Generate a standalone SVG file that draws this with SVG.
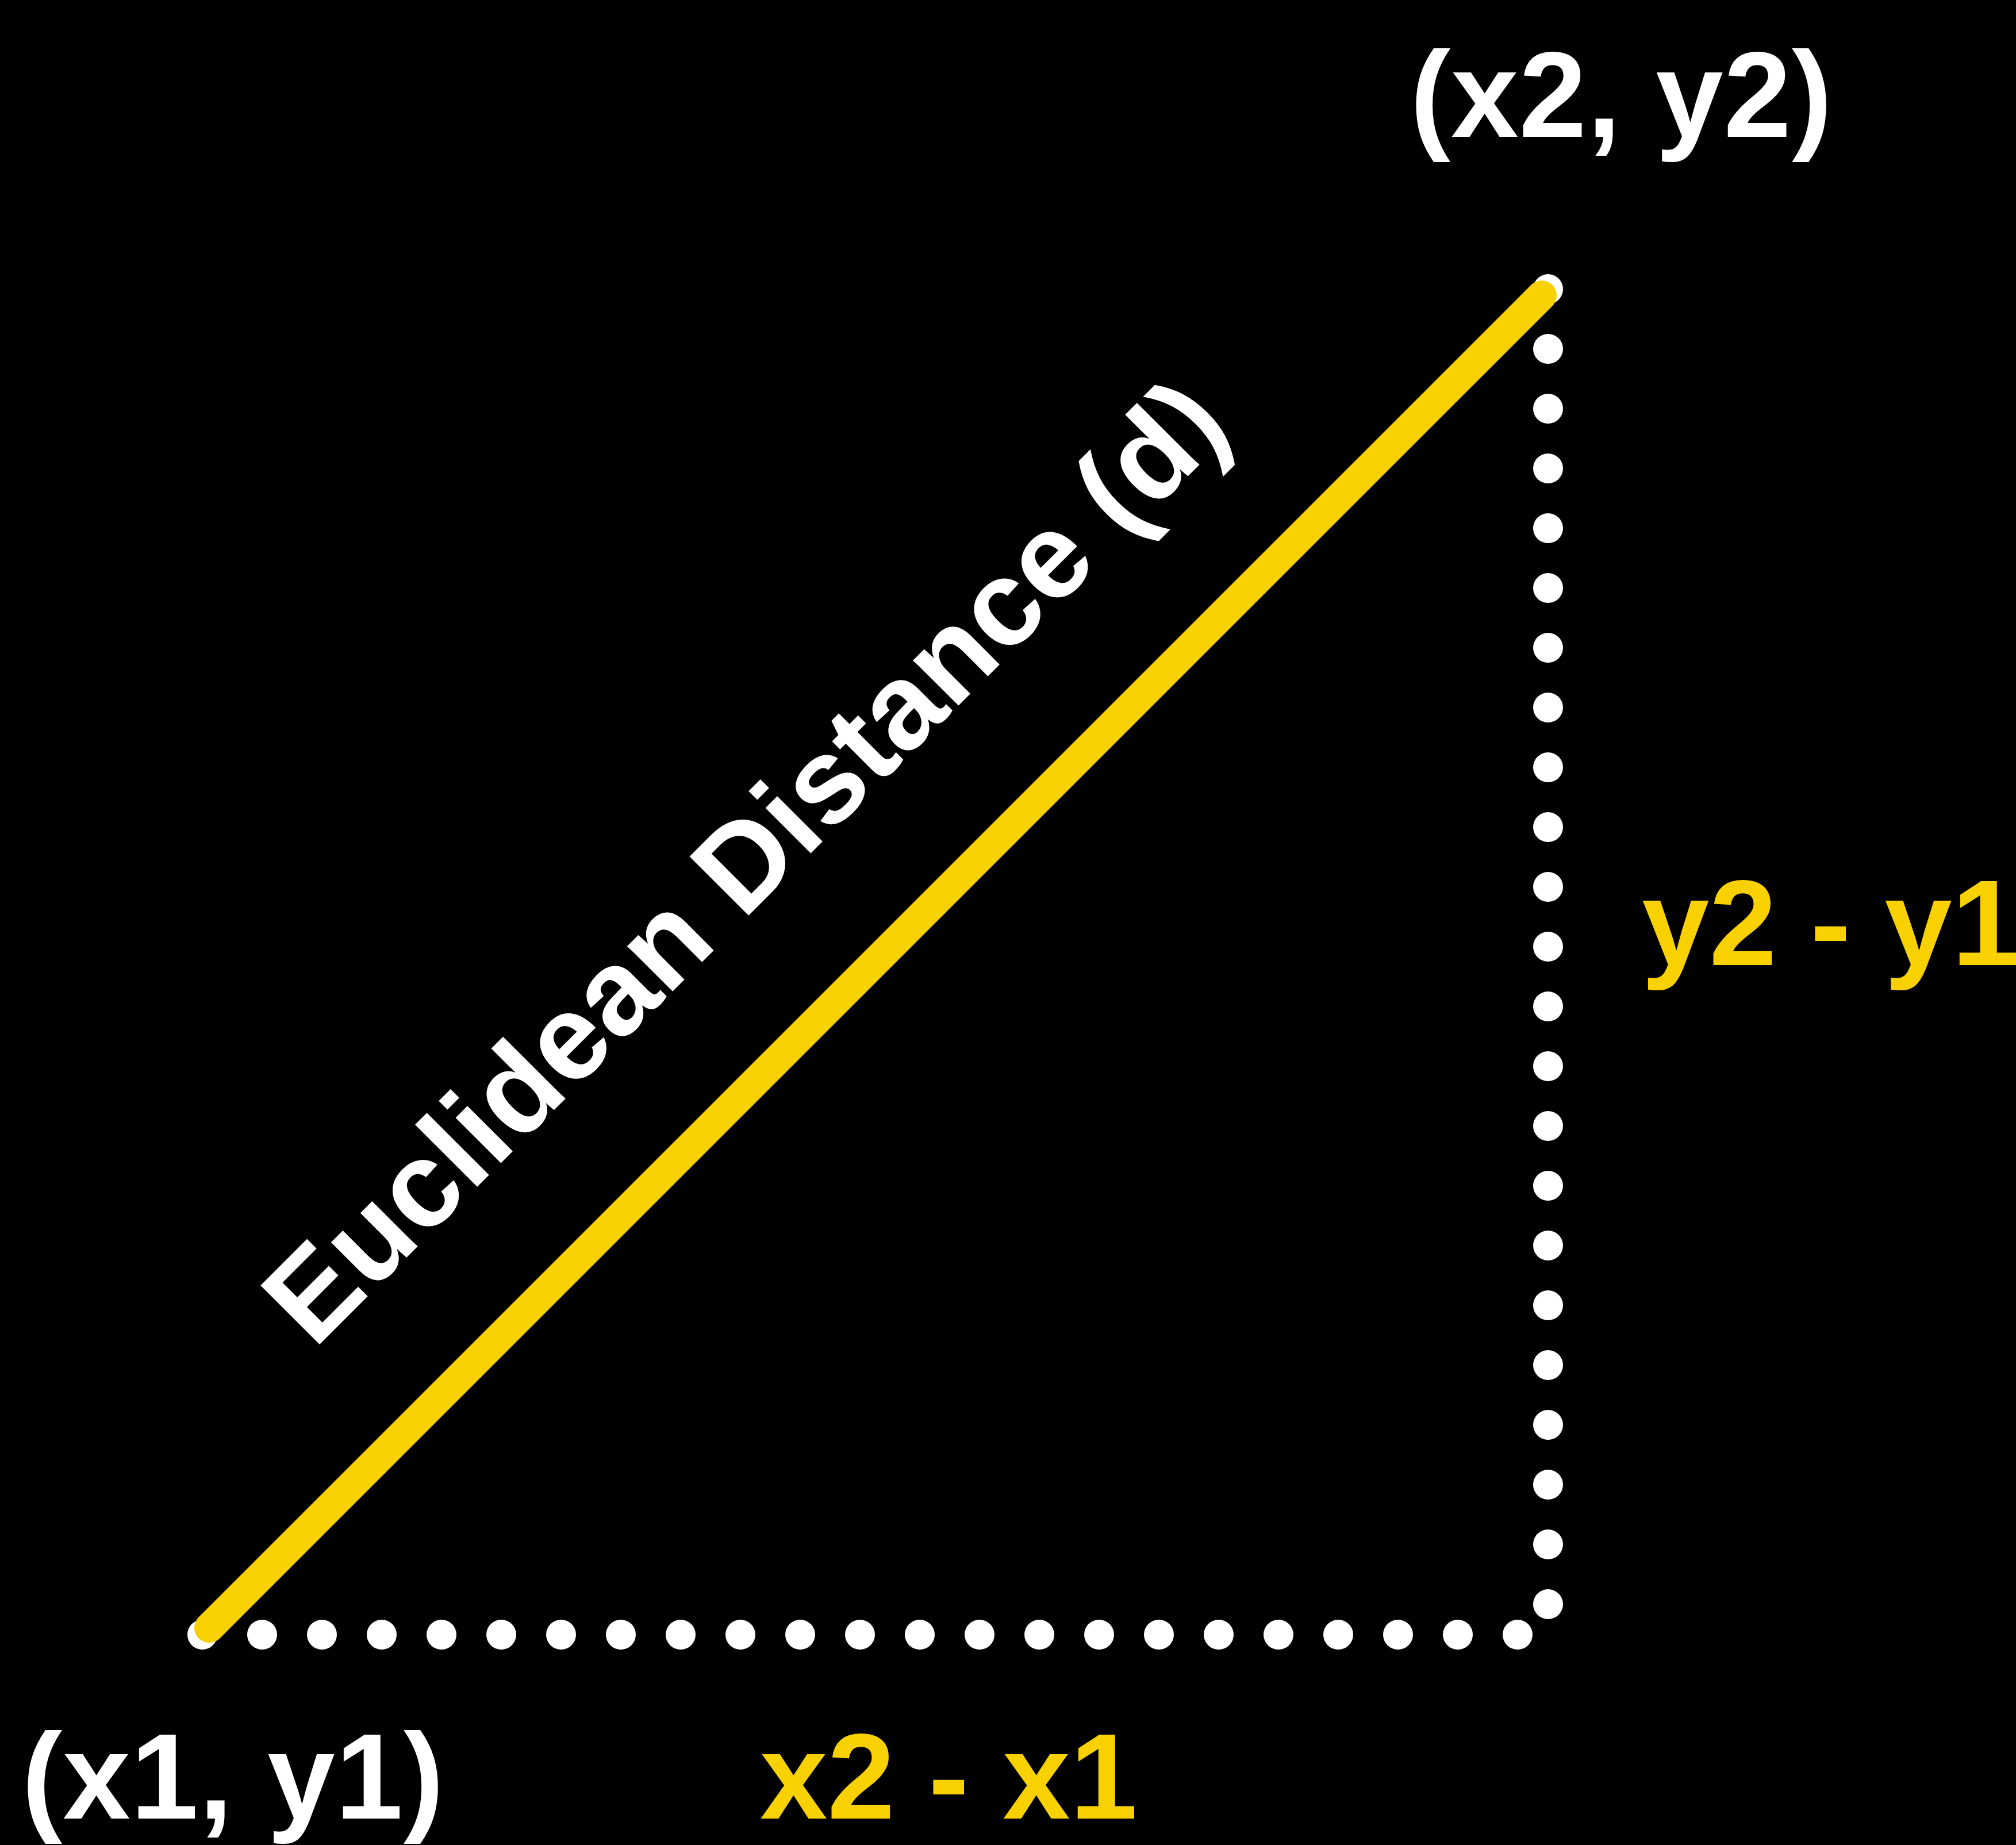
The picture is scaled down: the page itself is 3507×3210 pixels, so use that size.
<svg xmlns="http://www.w3.org/2000/svg" width="3507" height="3210" viewBox="0 0 3507 3210">
  <style>
    .lbl { font-family: "Liberation Sans", Arial, Helvetica, sans-serif; font-weight: bold; font-size: 211px; }
    .white { fill: #ffffff; }
    .yellow { fill: #F9D100; }
    .dots { fill: none; stroke: #ffffff; stroke-width: 52; stroke-linecap: round; stroke-dasharray: 0 104; }
    .hyp { fill: none; stroke: #F9D100; stroke-width: 52; stroke-linecap: round; }
  </style>
  <rect id="background" x="0" y="0" width="3507" height="3210" fill="#000000"/>
  <g id="connectors">
    <line id="dx-dotted" class="dots" x1="352" y1="2844" x2="2641" y2="2844"/>
    <line id="dy-dotted" class="dots" x1="2693" y1="503" x2="2693" y2="2794"/>
    <line id="euclidean" class="hyp" x1="364" y1="2832" x2="2682" y2="514"/>
  </g>
  <g id="point1">
    <text class="lbl white" x="38" y="3164" letter-spacing="1">(x1, y1)</text>
  </g>
  <g id="point2">
    <text class="lbl white" x="2453" y="238" letter-spacing="1">(x2, y2)</text>
  </g>
  <g id="dx-label">
    <text class="lbl yellow" x="1322" y="3164">x2 - x1</text>
  </g>
  <g id="dy-label">
    <text class="lbl yellow" x="2856" y="1679">y2 - y1</text>
  </g>
  <g id="distance-label">
    <text class="lbl white" x="546" y="2349" font-size="214" transform="rotate(-45 546 2349)">Euclidean Distance (d)</text>
  </g>
</svg>
